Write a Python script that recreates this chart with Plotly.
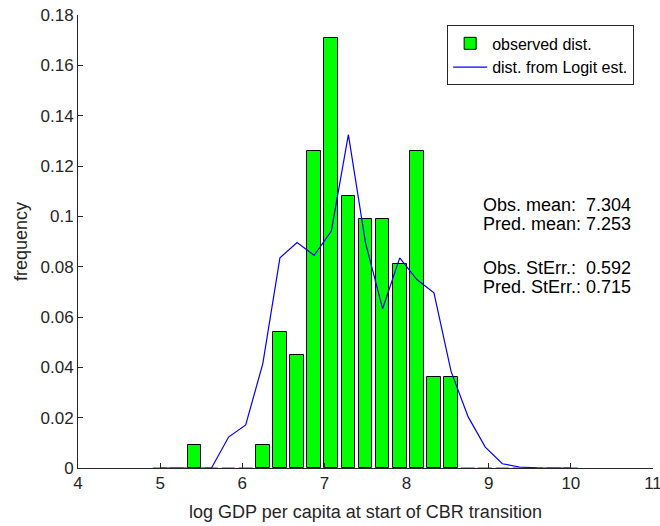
import plotly.graph_objects as go

# bin centres: 5 .. 10 in steps of 5/24
bin_centers = [5 + k * 5 / 24 for k in range(25)]
observed = [0, 0, 0.009, 0, 0, 0, 0.009, 0.054, 0.045, 0.126, 0.171, 0.108, 0.099,
            0.099, 0.081, 0.126, 0.036, 0.036, 0, 0, 0, 0, 0, 0, 0]
predicted = [0, 0, 0, 0, 0.0123, 0.0171, 0.0415, 0.0835, 0.0896, 0.0845, 0.0941, 0.1325,
             0.0895, 0.0633, 0.0835, 0.0749, 0.0696, 0.0384, 0.0203, 0.0083, 0.0017,
             0.0004, 0.0001, 0, 0]
stats_lines = ["Obs. mean:  7.304", "Pred. mean: 7.253", "Obs. StErr.:  0.592", "Pred. StErr.: 0.715"]
stats_y = [0.1047, 0.0971, 0.0796, 0.0721]

FONT = "Liberation Sans, Arial, Helvetica, sans-serif"
TXT = "#262626"
BW = 0.8 * 5 / 24

nz_x = [x for x, v in zip(bin_centers, observed) if v > 0]
nz_y = [v for v in observed if v > 0]
z_x = [x for x, v in zip(bin_centers, observed) if v <= 0]
z_y = [v for v in observed if v <= 0]

fig = go.Figure()
fig.add_trace(go.Bar(
    x=z_x, y=z_y, width=BW, showlegend=False, hoverinfo="skip",
    marker=dict(color="#00ff00", line=dict(color="#3a8a3a", width=0.5))))
fig.add_trace(go.Bar(
    x=nz_x, y=nz_y, width=BW,
    marker=dict(color="#00ff00", line=dict(color="black", width=1)),
    name="observed dist."))
fig.add_trace(go.Scatter(
    x=bin_centers, y=predicted, mode="lines",
    line=dict(color="#0000ff", width=1.2),
    name="dist. from Logit est."))

for t, yy in zip(stats_lines, stats_y):
    fig.add_annotation(x=8.91, y=yy, xref="x", yref="y", text=t, showarrow=False,
                       xanchor="left", yanchor="middle",
                       font=dict(family=FONT, size=18, color="black"))

fig.update_layout(
    width=660, height=526,
    margin=dict(l=78, r=7, t=15, b=58, autoexpand=False),
    plot_bgcolor="white", paper_bgcolor="white",
    font=dict(family=FONT, size=17, color=TXT),
    showlegend=True,
    barmode="overlay",
    legend=dict(x=0.642, y=0.977, xanchor="left", yanchor="top",
                bordercolor="#262626", borderwidth=1, bgcolor="white",
                font=dict(family=FONT, size=16, color="black"),
                itemwidth=34, tracegroupgap=0),
    bargap=0,
)
fig.update_xaxes(range=[4, 11], dtick=1, tick0=4, showline=True, linecolor=TXT, linewidth=1,
                 ticks="inside", ticklen=5, tickcolor=TXT, showgrid=False, zeroline=False,
                 mirror=False, ticklabeloverflow="allow", automargin=False,
                 title=dict(text="log GDP per capita at start of CBR transition", standoff=12,
                            font=dict(size=18, color=TXT)))
fig.update_yaxes(range=[0, 0.18], dtick=0.02, tick0=0, showline=True, linecolor=TXT, linewidth=1,
                 ticks="inside", ticklen=5, tickcolor=TXT, showgrid=False, zeroline=False,
                 ticklabeloverflow="allow", automargin=False,
                 title=dict(text="frequency", standoff=8, font=dict(size=18, color=TXT)))

fig.write_html("out.html")
